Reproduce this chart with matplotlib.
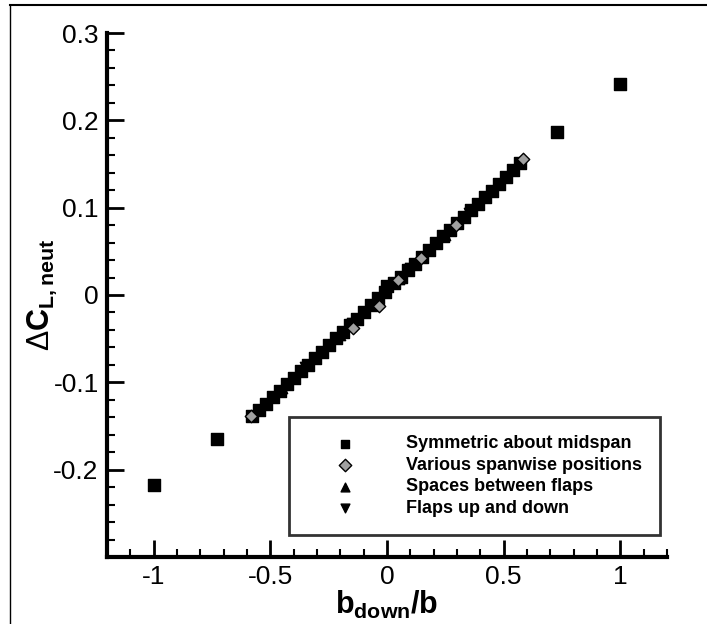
import matplotlib
matplotlib.use("Agg")
import matplotlib.pyplot as plt
from matplotlib.lines import Line2D
from matplotlib.ticker import MultipleLocator

plt.rcParams['font.family'] = ['Liberation Sans', 'DejaVu Sans']
plt.rcParams['mathtext.fontset'] = 'custom'
plt.rcParams['mathtext.rm'] = 'Liberation Sans'
plt.rcParams['mathtext.bf'] = 'Liberation Sans:bold'
plt.rcParams['mathtext.it'] = 'Liberation Sans:italic'

# --- data ---
sym_x = [-1.0, -0.73, -0.58, -0.55, -0.52, -0.49, -0.46, -0.43, -0.40, -0.37, -0.34,
         -0.31, -0.28, -0.25, -0.22, -0.19, -0.16, -0.13, -0.10, -0.07, -0.04,
         -0.01, 0.0, 0.03, 0.06, 0.09, 0.12, 0.15, 0.18, 0.21, 0.24, 0.27, 0.30,
         0.33, 0.36, 0.39, 0.42, 0.45, 0.48, 0.51, 0.54, 0.57, 0.73, 1.0]
sym_y = [-0.218, -0.165, -0.139, -0.132, -0.125, -0.117, -0.110, -0.102, -0.095,
         -0.087, -0.080, -0.072, -0.065, -0.057, -0.049, -0.042, -0.034, -0.027,
         -0.019, -0.012, -0.004, 0.003, 0.010, 0.014, 0.021, 0.029, 0.036, 0.044,
         0.051, 0.059, 0.067, 0.074, 0.082, 0.089, 0.097, 0.104, 0.112, 0.119,
         0.127, 0.135, 0.143, 0.151, 0.187, 0.242]

span_x = [-0.584, -0.146, -0.034, 0.047, 0.147, 0.296, 0.584]
span_y = [-0.138, -0.038, -0.013, 0.017, 0.042, 0.080, 0.156]

gap_x = [-0.45, -0.20, 0.05, 0.25, 0.45]
gap_y = [-0.107, -0.046, 0.018, 0.069, 0.119]

updown_x = [-0.35, -0.15, 0.10, 0.35]
updown_y = [-0.082, -0.032, 0.031, 0.094]

labels = ['Symmetric about midspan', 'Various spanwise positions',
          'Spaces between flaps', 'Flaps up and down']

fig = plt.figure(figsize=(7.07, 6.24), dpi=100)
ax = fig.add_axes([0.1513, 0.1074, 0.7921, 0.8397])

h3 = ax.scatter(gap_x, gap_y, marker='^', s=55, c='black', zorder=2, label=labels[2])
h4 = ax.scatter(updown_x, updown_y, marker='v', s=55, c='black', zorder=2, label=labels[3])
h1 = ax.scatter(sym_x, sym_y, marker='s', s=80, c='black', zorder=3, label=labels[0])
h2 = ax.scatter(span_x, span_y, marker='D', s=40, c='#a0a0a0', edgecolors='black',
                linewidths=1.0, zorder=4, label=labels[1])

ax.set_xlim(-1.2, 1.2)
ax.set_ylim(-0.3, 0.3)
ax.set_xticks([-1, -0.5, 0, 0.5, 1])
ax.set_xticklabels(['-1', '-0.5', '0', '0.5', '1'])
ax.set_yticks([-0.2, -0.1, 0, 0.1, 0.2, 0.3])
ax.set_yticklabels(['-0.2', '-0.1', '0', '0.1', '0.2', '0.3'])
ax.xaxis.set_minor_locator(MultipleLocator(0.1))
ax.yaxis.set_minor_locator(MultipleLocator(0.02))

for s in ['top', 'right']:
    ax.spines[s].set_visible(False)
for s in ['left', 'bottom']:
    ax.spines[s].set_linewidth(3)

ax.tick_params(which='major', direction='in', length=12, width=2, labelsize=19, pad=6)
ax.tick_params(which='minor', direction='in', length=6, width=1.5)

ax.set_xlabel(r'$\mathbf{b}_{\mathbf{down}}\mathbf{/b}$', fontsize=22, labelpad=0)
ax.set_ylabel(r'$\Delta\mathbf{C}_{\mathbf{L,neut}}$', fontsize=22, labelpad=-4)

leg = ax.legend(handles=[h1, h2, h3, h4], labels=labels, loc='lower right',
                bbox_to_anchor=(0.9875, 0.042), frameon=True, fancybox=False,
                edgecolor='black', prop={'weight': 'bold', 'size': 13},
                handletextpad=1.2, borderpad=1.0, labelspacing=0.25,
                handlelength=4.3, borderaxespad=0)
leg.get_frame().set_linewidth(2)
for h in leg.legend_handles:
    h.set_sizes([40])

# scanned-page frame lines
fig.add_artist(Line2D([10/707, 10/707], [0, 1 - 5/624], transform=fig.transFigure,
                      color='black', lw=1))
fig.add_artist(Line2D([10/707, 1], [1 - 5/624, 1 - 5/624], transform=fig.transFigure,
                      color='black', lw=1.5))

fig.savefig('out.png', dpi=100)
